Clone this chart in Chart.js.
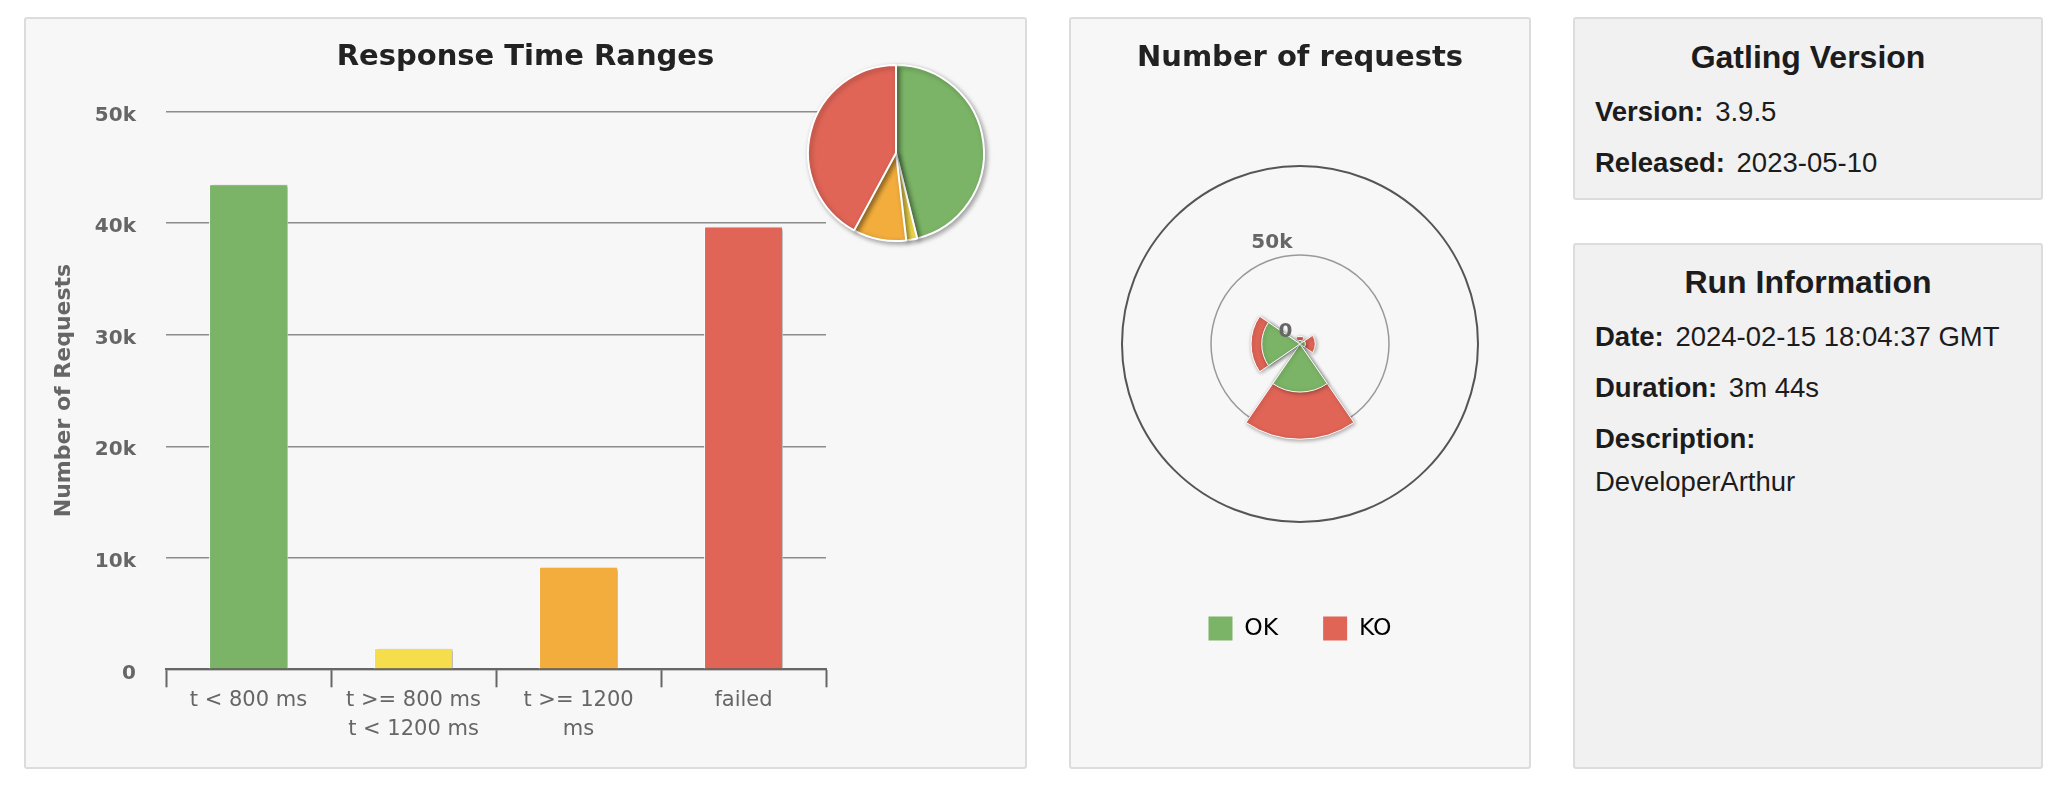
<!DOCTYPE html>
<html>
<head>
<meta charset="utf-8">
<script src="https://cdn.jsdelivr.net/npm/chart.js@4.4.1/dist/chart.umd.min.js"></script>
<style>
  html, body { margin: 0; padding: 0; background: #fff; }
  body { width: 2064px; height: 792px; position: relative; overflow: hidden; }
  .panel { position: absolute; box-sizing: border-box; border: 2px solid #dcdcdc; border-radius: 3px; background: #f7f7f7; }
  .panel.info { background: #f1f1f1; font-family: "Liberation Sans", Arial, sans-serif; color: #1c1c1c; }
  .cv { position: absolute; }
  .info .t { position: absolute; left: 0; right: 0; text-align: center; font-weight: bold; font-size: 32px; line-height: 32px; white-space: nowrap; }
  .info .l { position: absolute; left: 20px; font-size: 27.5px; line-height: 27.5px; white-space: nowrap; }
  .info .l b { margin-right: 4px; }
</style>
</head>
<body>

<div class="panel" style="left:24px;top:17px;width:1003px;height:752px">
  <div class="cv" style="left:0;top:0;width:999px;height:748px"><canvas id="bars"></canvas></div>
  <div class="cv" style="left:760px;top:24px;width:220px;height:220px;pointer-events:none"><canvas id="pie"></canvas></div>
</div>

<div class="panel" style="left:1069px;top:17px;width:462px;height:752px">
  <div class="cv" style="left:0;top:0;width:458px;height:748px"><canvas id="polar"></canvas></div>
</div>

<div class="panel info" style="left:1573px;top:17px;width:470px;height:183px">
  <div class="t" style="top:22px">Gatling Version</div>
  <div class="l" style="top:79px"><b>Version:</b> 3.9.5</div>
  <div class="l" style="top:130px"><b>Released:</b> 2023-05-10</div>
</div>

<div class="panel info" style="left:1573px;top:243px;width:470px;height:526px">
  <div class="t" style="top:21px">Run Information</div>
  <div class="l" style="top:78px"><b>Date:</b> 2024-02-15 18:04:37 GMT</div>
  <div class="l" style="top:129px"><b>Duration:</b> 3m 44s</div>
  <div class="l" style="top:180px"><b>Description:</b></div>
  <div class="l" style="top:223px">DeveloperArthur</div>
</div>

<script>
// response time ranges (bar + pie)
const rangeLabels = ['t < 800 ms', ['t >= 800 ms', 't < 1200 ms'], ['t >= 1200', 'ms'], 'failed'];
const rangeCounts = [43500, 1900, 9200, 39700];
const rangeColors = ['#7bb467', '#f6dd4b', '#f2ad3c', '#e06557'];
const yTicks = [0, 10000, 20000, 30000, 40000, 50000];

// number of requests (polar, stacked OK / KO per request)
const seriesNames = ['OK', 'KO'];
const seriesColors = ['#7bb467', '#e06557'];
const okCounts = [2000, 3000, 27000, 21500];
const koCounts = [2300, 5600, 26500, 6000];
const radialTicks = [0, 50000, 100000];

Chart.defaults.font.family = '"DejaVu Sans", sans-serif';
Chart.defaults.animation = false;

function fmtK(v) {
    return v === 0 ? '0' : (v / 1000) + 'k';
}

// soft drop shadow under the marks, like the highcharts one
function shadowPlugin(color, blur, dx, dy, after) {
    return {
        id: 'shadow',
        beforeDatasetsDraw(chart) {
            const c = chart.ctx;
            c.save();
            c.shadowColor = color;
            c.shadowBlur = blur;
            c.shadowOffsetX = dx;
            c.shadowOffsetY = dy;
        },
        afterDatasetsDraw(chart) {
            chart.ctx.restore();
            if (after) after(chart);
        }
    };
}

new Chart(document.getElementById('bars'), {
    type: 'bar',
    data: {
        labels: rangeLabels,
        datasets: [{
            data: rangeCounts,
            backgroundColor: rangeColors,
            borderColor: '#ffffff',
            borderWidth: 1,
            barPercentage: 0.478,
            categoryPercentage: 1
        }]
    },
    options: {
        responsive: true,
        maintainAspectRatio: false,
        events: [],
        layout: { padding: 0 },
        plugins: {
            legend: { display: false },
            tooltip: { enabled: false },
            title: {
                display: true,
                text: 'Response Time Ranges',
                color: '#222',
                font: { size: 29, weight: 'bold', lineHeight: 1.2 },
                padding: { top: 21.4, bottom: 36.5 }
            }
        },
        scales: {
            x: {
                grid: { offset: true, drawOnChartArea: false, drawTicks: true, tickLength: 18, tickColor: '#666', tickWidth: 2 },
                border: { color: '#666', width: 2 },
                ticks: { color: '#666', font: { size: 21, lineHeight: 1.38 }, padding: -1, maxRotation: 0, autoSkip: false },
                afterFit(s) { s.height = 97.7; }
            },
            y: {
                min: yTicks[0],
                max: yTicks[yTicks.length - 1],
                grid: { color: '#8c8c8c', lineWidth: 1.5, drawTicks: false },
                border: { display: false },
                ticks: {
                    stepSize: yTicks[1] - yTicks[0],
                    padding: 30,
                    labelOffset: 4,
                    color: '#666',
                    font: { size: 20, weight: 'bold' },
                    callback: (v) => fmtK(v)
                },
                title: {
                    display: true,
                    text: 'Number of Requests',
                    color: '#666',
                    font: { size: 22, weight: 'bold', lineHeight: 1.2 },
                    padding: { top: 25.5, bottom: 0 }
                },
                afterFit(s) { s.width = 140; }
            },
            // empty right-hand space where the pie sits
            pad: {
                type: 'linear',
                position: 'right',
                grid: { display: false },
                border: { display: false },
                ticks: { display: false },
                afterFit(s) { s.width = 199; }
            }
        }
    },
    plugins: [shadowPlugin('rgba(0,0,0,0.32)', 3, 2, 1)]
});

new Chart(document.getElementById('pie'), {
    type: 'pie',
    data: {
        labels: rangeLabels.map(l => [].concat(l).join(' ')),
        datasets: [{
            data: rangeCounts,
            backgroundColor: rangeColors,
            borderColor: '#ffffff',
            borderWidth: 2
        }]
    },
    options: {
        responsive: true,
        maintainAspectRatio: false,
        events: [],
        radius: 88,
        layout: { padding: 0 },
        plugins: { legend: { display: false }, tooltip: { enabled: false } }
    },
    plugins: [shadowPlugin('rgba(0,0,0,0.35)', 5, 2, 2)]
});

// highcharts-like polar columns: each request gets a 90deg slot, sector 69deg wide
const sectorAngle = 69;
const gapAngle = 21;
const spaced = (arr) => arr.flatMap(v => [v, null]);
const stackedKo = okCounts.map((v, i) => v + koCounts[i]);

function drawRadialLabels(chart) {
    const c = chart.ctx;
    const s = chart.scales.r;
    c.save();
    c.font = 'bold 20px "DejaVu Sans"';
    c.fillStyle = '#666';
    c.textAlign = 'right';
    c.textBaseline = 'middle';
    s.ticks.forEach(t => {
        if (t.value >= s.max) return;
        c.fillText(fmtK(t.value), s.xCenter - 7.5, s.yCenter - s.getDistanceFromCenterForValue(t.value) - 12.5);
    });
    c.restore();
}

new Chart(document.getElementById('polar'), {
    type: 'polarArea',
    data: {
        datasets: [{
            label: seriesNames[0],
            data: spaced(okCounts),
            backgroundColor: seriesColors[0],
            borderColor: '#ffffff',
            borderWidth: 1,
            angle: (ctx) => ctx.dataIndex % 2 ? gapAngle : sectorAngle
        }, {
            label: seriesNames[1],
            data: spaced(stackedKo),
            backgroundColor: seriesColors[1],
            borderColor: '#ffffff',
            borderWidth: 1,
            angle: (ctx) => ctx.dataIndex % 2 ? gapAngle : sectorAngle
        }]
    },
    options: {
        responsive: true,
        maintainAspectRatio: false,
        events: [],
        layout: { padding: { left: 51, right: 51, top: 0, bottom: 116.5 } },
        plugins: {
            tooltip: { enabled: false },
            title: {
                display: true,
                text: 'Number of requests',
                color: '#222',
                font: { size: 29, weight: 'bold', lineHeight: 1.2 },
                padding: { top: 22.1, bottom: 41.6 }
            },
            legend: {
                display: true,
                position: 'bottom',
                labels: {
                    boxWidth: 24,
                    boxHeight: 24,
                    padding: 45,
                    color: '#333',
                    font: { size: 23.5 },
                    generateLabels: () => seriesNames.map((n, i) => ({
                        text: n,
                        fillStyle: seriesColors[i],
                        strokeStyle: seriesColors[i],
                        lineWidth: 0,
                        hidden: false,
                        datasetIndex: i
                    }))
                }
            }
        },
        scales: {
            r: {
                min: radialTicks[0],
                max: radialTicks[radialTicks.length - 1],
                startAngle: -sectorAngle / 2,
                ticks: { display: false, stepSize: radialTicks[1] - radialTicks[0] },
                grid: {
                    circular: true,
                    color: (ctx) => ctx.index === radialTicks.length - 1 ? '#555' : '#999',
                    lineWidth: (ctx) => ctx.index === radialTicks.length - 1 ? 2 : 1.5
                },
                angleLines: { display: false },
                pointLabels: { display: false }
            }
        }
    },
    plugins: [shadowPlugin('rgba(0,0,0,0.35)', 4, 1, 1, drawRadialLabels)]
});
</script>
</body>
</html>
